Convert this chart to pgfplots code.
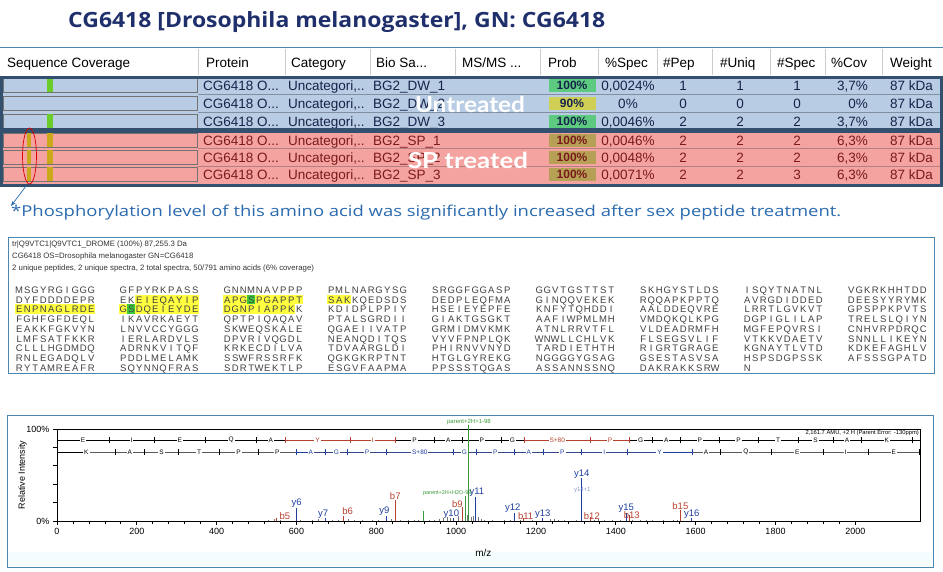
\documentclass[border=0pt]{standalone}
\usepackage{pgfplots}
\pgfplotsset{compat=1.18}
\usetikzlibrary{arrows.meta}
\usepackage{fontspec}
\setmainfont{Liberation Sans}
\newfontfamily\titlefont{Open Sans}
\newfontfamily\bigfont{Lato}

\definecolor{navy}{HTML}{1F2F6B}
\definecolor{rowblue}{HTML}{B8CCE4}
\definecolor{rowred}{HTML}{F4A3A0}
\definecolor{grpline}{HTML}{34506F}
\definecolor{probgreen}{HTML}{5DCB7F}
\definecolor{probyellow}{HTML}{CFCF55}
\definecolor{probolive}{HTML}{B5A055}
\definecolor{covgreen}{HTML}{6ACD2A}
\definecolor{covyel}{HTML}{C9A81A}
\definecolor{notecol}{HTML}{2B6AAE}
\definecolor{boxline}{HTML}{4A86B0}
\definecolor{hlyellow}{HTML}{FFFF40}
\definecolor{hlgreen}{HTML}{3CC83C}
\definecolor{bion}{HTML}{B8402E}
\definecolor{yion}{HTML}{1F3F9F}
\definecolor{pgreen}{HTML}{3A9A3A}
\definecolor{bluetxt}{HTML}{15234A}
\definecolor{redtxt}{HTML}{7B1B1B}

% one block of ten residues, fixed pitch
\newcommand\sqb[1]{\xsq#1\relax}
\def\xsq#1{\ifx#1\relax\else\makebox[8pt]{#1}\expandafter\xsq\fi}
\newcommand\seqrow[2]{%
  \foreach \blk [count=\b from 0] in {#2}{%
    \node[anchor=base west,inner sep=0pt,text=black!75,font=\fontsize{9.5}{9.5}\selectfont]
      at ({15+104*\b},#1+3.4) {\expandafter\sqb\expandafter{\blk}};}}

\tikzset{
  tl/.style={anchor=base west,inner sep=0pt,font=\fontsize{13.5}{14}\selectfont},
  tc/.style={anchor=base,inner sep=0pt,font=\fontsize{13.5}{14}\selectfont},
  tr/.style={anchor=base east,inner sep=0pt,font=\fontsize{13.5}{14}\selectfont},
  pl/.style={font=\fontsize{9.5}{9.5}\selectfont,inner sep=0.5pt},
}

% y, cov fill, text colour, prob colour, bio sample, prob, %spec
\newcommand\tabrow[7]{%
  \draw[black!55,fill=#2] (3,#1-7) rectangle (197,#1+7);
  \fill[#4] (549,#1-6.5) rectangle (596,#1+6.5);
  \node[tl,text=#3] at (203,#1+5) {CG6418 O...};
  \node[tl,text=#3] at (288,#1+5) {Uncategori,..};
  \node[tl,text=#3] at (373,#1+5) {#5};
  \node[tc,text=#3,font=\fontsize{12}{12}\selectfont\bfseries] at (572,#1+4.5) {#6};
  \node[tc,text=#3] at (628,#1+5) {#7};
  \node[tl,text=#3] at (890,#1+5) {87 kDa};
}
% y, text colour, pep, uniq, spec, cov
\newcommand\tabnums[6]{%
  \node[tc,text=#2] at (683,#1+5) {#3};
  \node[tc,text=#2] at (740,#1+5) {#4};
  \node[tc,text=#2] at (797,#1+5) {#5};
  \node[tr,text=#2] at (868,#1+5) {#6};
}

\begin{document}
\begin{tikzpicture}

\begin{scope}[x=1pt,y=-1pt]
\path[use as bounding box] (0,0) rectangle (943,571);

% title
\node[anchor=west,inner sep=0pt,text=navy] at (68,22)
  {\resizebox{537pt}{\height}{\titlefont\bfseries\fontsize{21}{21}\selectfont CG6418 [Drosophila melanogaster], GN: CG6418}};

% ---- table ----
\fill[white] (0,47) rectangle (943,76);
\fill[rowblue] (0,76) rectangle (943,130);
\fill[rowred] (0,130) rectangle (943,187);
\foreach \x in {198,285,370,455,540,598,657,712,770,825,882}
  \draw[black!20] (\x,49) -- (\x,75);
\node[tl] at (7,67) {Sequence Coverage};
\node[tl] at (206,67) {Protein};
\node[tl] at (291,67) {Category};
\node[tl] at (376,67) {Bio Sa...};
\node[tl] at (462,67) {MS/MS ...};
\node[tl] at (548,67) {Prob};
\node[tl] at (605,67) {\%Spec};
\node[tl] at (663,67) {\#Pep};
\node[tl] at (720,67) {\#Uniq};
\node[tl] at (777,67) {\#Spec};
\node[tl] at (831,67) {\%Cov};
\node[tl] at (890,67) {Weight};

\draw[black!30!rowblue] (198,94) -- (943,94) (198,112) -- (943,112);
\draw[red!40!black!50] (198,148.5) -- (943,148.5) (198,166) -- (943,166);

\tabrow{85}{rowblue}{bluetxt}{probgreen}{BG2\_DW\_1}{100\%}{0,0024\%}
\tabrow{103}{rowblue}{bluetxt}{probyellow}{BG2\_DW\_2}{90\%}{0\%}
\tabrow{121}{rowblue}{bluetxt}{probgreen}{BG2\_DW\_3}{100\%}{0,0046\%}
\tabrow{140}{rowred}{redtxt}{probolive}{BG2\_SP\_1}{100\%}{0,0046\%}
\tabrow{157}{rowred}{redtxt}{probolive}{BG2\_SP\_2}{100\%}{0,0048\%}
\tabrow{174}{rowred}{redtxt}{probolive}{BG2\_SP\_3}{100\%}{0,0071\%}
\tabnums{85}{bluetxt}{1}{1}{1}{3,7\%}
\tabnums{103}{bluetxt}{0}{0}{0}{0\%}
\tabnums{121}{bluetxt}{2}{2}{2}{3,7\%}
\tabnums{140}{redtxt}{2}{2}{2}{6,3\%}
\tabnums{157}{redtxt}{2}{2}{2}{6,3\%}
\tabnums{174}{redtxt}{2}{2}{3}{6,3\%}

% coverage marks
\foreach \y in {85,121} \fill[covgreen] (47,\y-7) rectangle (53,\y+7);
\foreach \y in {140,157,174} {
  \fill[covyel] (27,\y-7) rectangle (31,\y+7);
  \fill[covyel] (47,\y-7) rectangle (53,\y+7);
}

% group frames
\draw[grpline,line width=3pt] (1.5,77.5) rectangle (941.5,129);
\draw[grpline,line width=3pt] (1.5,131) rectangle (941.5,185.5);
\draw[boxline,line width=0.8pt] (0.4,47) -- (942.6,47);

% overlay words
\node[text=white,inner sep=0pt] at (470,104)
  {\resizebox{110pt}{\height}{\bigfont\bfseries\fontsize{22}{22}\selectfont Untreated}};
\node[text=white,inner sep=0pt] at (468,160)
  {\resizebox{120pt}{\height}{\bigfont\bfseries\fontsize{22}{22}\selectfont SP treated}};

% ellipse, arrow, note
\draw[red!85!black,line width=0.7pt] (29.5,156) ellipse [x radius=7pt,y radius=28pt];
\draw[-{Stealth[length=5pt]},notecol,line width=0.7pt] (26,186) -- (11,206);
\node[anchor=west,inner sep=0pt,text=notecol] at (11,213)
  {\resizebox{830pt}{\height}{\titlefont\fontsize{15}{15}\selectfont *Phosphorylation level of this amino acid was significantly increased after sex peptide treatment.}};

% ---- sequence box ----
\draw[boxline,line width=1pt] (8,237) rectangle (934,373);
\begin{scope}[every node/.style={anchor=base west,inner sep=0pt,text=black!80,font=\fontsize{7.8}{8}\selectfont}]
\node at (12,246) {tr|Q9VTC1|Q9VTC1\_DROME (100\%) 87,255.3 Da};
\node at (12,258) {CG6418 OS=Drosophila melanogaster GN=CG6418};
\node at (12,270) {2 unique peptides, 2 unique spectra, 2 total spectra, 50/791 amino acids (6\% coverage)};
\end{scope}

% highlights
\fill[hlyellow] (135,294.6) rectangle (199,304.4);
\fill[hlyellow] (223,294.6) rectangle (303,304.4);
\fill[hlgreen] (247,294.6) rectangle (255,304.4);
\fill[hlyellow] (327,294.6) rectangle (351,304.4);
\fill[hlyellow] (15,304.4) rectangle (95,314.2);
\fill[hlyellow] (119,304.4) rectangle (199,314.2);
\fill[hlgreen] (127,304.4) rectangle (135,314.2);
\fill[hlyellow] (223,304.4) rectangle (295,314.2);

\seqrow{290}{MSGYRGIGGG,GFPYRKPASS,GNNMNAVPPP,PMLNARGYSG,SRGGFGGASP,GGVTGSTTST,SKHGYSTLDS,ISQYTNATNL,VGKRKHHTDD}
\seqrow{299.75}{DYFDDDDEPR,EKEIEQAYIP,APGSPGAPPT,SAKKQEDSDS,DEDPLEQFMA,GINQQVEKEK,RQQAPKPPTQ,AVRGDIDDED,DEESYYRYMK}
\seqrow{309.5}{ENPNAGLRDE,GSDQEIEYDE,DGNPIAPPKK,KDIDPLPPIY,HSEIEYEPFE,KNFYTQHDDI,AALDDEQVRE,LRRTLGVKVT,GPSPPKPVTS}
\seqrow{319.25}{FGHFGFDEQL,IKAVRKAEYT,QPTPIQAQAV,PTALSGRDII,GIAKTGSGKT,AAFIWPMLMH,VMDQKQLKPG,DGPIGLILAP,TRELSLQIYN}
\seqrow{329}{EAKKFGKVYN,LNVVCCYGGG,SKWEQSKALE,QGAEIIVATP,GRMIDMVKMK,ATNLRRVTFL,VLDEADRMFH,MGFEPQVRSI,CNHVRPDRQC}
\seqrow{338.75}{LMFSATFKKR,IERLARDVLS,DPVRIVQGDL,NEANQDITQS,VYVFPNPLQK,WNWLLCHLVK,FLSEGSVLIF,VTKKVDAETV,SNNLLIKEYN}
\seqrow{348.5}{CLLLHGDMDQ,ADRNKVITQF,KRKECDILVA,TDVAARGLDI,PHIRNVVNYD,TARDIETHTH,RIGRTGRAGE,KGNAYTLVTD,KDKEFAGHLV}
\seqrow{358.25}{RNLEGADQLV,PDDLMELAMK,SSWFRSSRFK,QGKGKRPTNT,HTGLGYREKG,NGGGGYGSAG,GSESTASVSA,HSPSDGPSSK,AFSSSGPATD}
\seqrow{368}{RYTAMREAFR,SQYNNQFRAS,SDRTWEKTLP,ESGVFAAPMA,PPSSSTQGAS,ASSANNSSNQ,DAKRAKKSRW,N}

% ---- spectrum frame ----
\fill[cyan!4] (8,552) rectangle (932,566);
\draw[boxline,line width=1pt] (7,415) rectangle (933,567);
\end{scope}

\begin{axis}[
  at={(57pt,-521pt)}, anchor=south west,
  scale only axis, width=863pt, height=92pt,
  xmin=0, xmax=2162, ymin=0, ymax=100,
  clip=false,
  axis line style={line width=1pt},
  xtick={0,200,...,2000}, minor x tick num=4,
  ytick={0,20,...,100}, yticklabels={0\%,,,,,100\%},
  xtick pos=bottom, ytick pos=left, tick align=outside,
  major tick length=4pt, minor tick length=3pt,
  every tick/.style={black,line width=0.8pt},
  tick label style={font=\fontsize{9}{9}\selectfont},
  /pgf/number format/assume math mode=true,
  /pgf/number format/set thousands separator={},
  xlabel={m/z}, ylabel={Relative Intensity},
  xlabel style={at={(axis description cs:0.494,0)},anchor=center,yshift=-32pt,font=\fontsize{10}{10}\selectfont},
  ylabel style={at={(axis description cs:-0.040,0.5)},anchor=center,font=\fontsize{9}{9}\selectfont},
  ladtxt/.style={draw=none,mark=none,nodes near coords,point meta=explicit symbolic,
    every node near coord/.append style={anchor=center,fill=white,inner sep=1pt,font=\fontsize{6.5}{6.5}\selectfont}},
]
% fragment ladders
\addplot[black,line width=0.6pt,mark=|,mark size=3pt,mark options={line width=0.7pt}] coordinates {
(0,88) (130.05,88) (243.1,88) (372.2,88) (500.2,88) (571.3,88) (734.3,88) (847.4,88)
(944.5,88) (1015.5,88) (1112.6,88) (1169.6,88) (1336.6,88) (1433.7,88) (1490.7,88)
(1561.7,88) (1658.8,88) (1755.8,88) (1856.9,88) (1943.9,88) (2014.9,88) (2143,88) (2162,88)};
\addplot[bion,line width=0.6pt,mark=|,mark size=3pt,mark options={line width=0.7pt}] coordinates {(571.3,88) (734.3,88) (847.4,88)};
\addplot[bion,line width=0.6pt,mark=|,mark size=3pt,mark options={line width=0.7pt}] coordinates {(1169.6,88) (1336.6,88) (1433.7,88)};
\addplot[black,line width=0.6pt,mark=|,mark size=3pt,mark options={line width=0.7pt}] coordinates {
(0,75) (147.1,75) (218.1,75) (305.2,75) (406.2,75) (503.3,75) (600.3,75) (671.4,75) (728.4,75)
(825.4,75) (992.4,75) (1049.4,75) (1146.5,75) (1217.5,75) (1314.6,75) (1427.6,75) (1590.7,75)
(1661.7,75) (1789.8,75) (1918.8,75) (2031.9,75) (2160.9,75) (2162,75)};
\addplot[yion,line width=0.6pt,mark=|,mark size=3pt,mark options={line width=0.7pt}] coordinates {
(600.3,75) (671.4,75) (728.4,75) (825.4,75) (992.4,75) (1049.4,75) (1146.5,75) (1217.5,75)
(1314.6,75) (1427.6,75) (1590.7,75)};
\addplot[ladtxt,every node near coord/.append style={text=black}] coordinates {
(65,88)[E] (186.6,88)[I] (307.7,88)[E] (436.2,88)[Q] (535.8,88)[A] (896,88)[P] (980,88)[A]
(1064,88)[P] (1141.1,88)[G] (1462.2,88)[G] (1526.2,88)[A] (1610.3,88)[P] (1707.3,88)[P]
(1806.4,88)[T] (1900.4,88)[S] (1979.4,88)[A] (2079,88)[K]
(73.6,75)[K] (182.6,75)[A] (261.7,75)[S] (355.7,75)[T] (454.8,75)[P] (551.8,75)[P]
(1626.2,75)[A] (1725.8,75)[Q] (1854.3,75)[E] (1975.4,75)[I] (2096.4,75)[E]};
\addplot[ladtxt,every node near coord/.append style={text=bion}] coordinates {
(652.8,88)[Y] (790.9,88)[I] (1253.1,88)[S+80] (1385.2,88)[P]};
\addplot[ladtxt,every node near coord/.append style={text=yion}] coordinates {
(635.9,75)[A] (699.9,75)[G] (776.9,75)[P] (908.9,75)[S+80] (1020.9,75)[G] (1098,75)[P]
(1182,75)[A] (1266,75)[P] (1371.1,75)[I] (1509.2,75)[Y]};

% unassigned peaks
\addplot[ycomb,black!55,line width=0.5pt] coordinates {
(530,1) (545,2) (560,1.5) (610,1) (640,1.5) (655,2) (690,1) (705,1.5) (730,2.5) (745,1)
(765,1) (790,1.5) (805,1) (838,2.5) (860,1) (880,1.5) (895,1) (905,1.5) (932,1) (945,1.5)
(958,2) (968,3) (978,4) (985,3) (1005,5) (1028,6) (1038,4) (1042,5) (1055,4) (1062,2.5)
(1070,1.5) (1090,1) (1120,1) (1135,1.5) (1160,1.5) (1190,1) (1235,2) (1245,2.5) (1255,1.5)
(1270,1) (1300,1.5) (1345,1.5) (1355,2) (1370,1) (1390,1) (1410,1.5) (1440,1) (1460,1)
(1475,1) (1490,1) (1520,1) (1545,1.5) (1555,1)};
% b ions
\addplot[ycomb,bion,line width=1pt] coordinates {
(551,3) (717,5) (847.4,23) (1015.5,15) (1169.6,3) (1336.6,4) (1433.7,6) (1561.7,12)};
% y ions
\addplot[ycomb,yion,line width=1pt] coordinates {
(600.3,14) (671.4,3) (825.4,5) (992.4,3) (1049.4,26) (1146.5,9) (1217.5,3) (1314.6,47)
(1427.6,9) (1590.7,3)};
% precursor related
\addplot[ycomb,pgreen,line width=1pt] coordinates {(918,11) (1023,27) (1032,104)};

% peak labels
\node[pl,text=bion,anchor=south west] at (axis cs:556,0.5) {b5};
\node[pl,text=yion,anchor=south] at (axis cs:600.3,14) {y6};
\node[pl,text=yion,anchor=south] at (axis cs:667,2) {y7};
\node[pl,text=bion,anchor=south] at (axis cs:728,6) {b6};
\node[pl,text=yion,anchor=south] at (axis cs:820,5) {y9};
\node[pl,text=bion,anchor=south] at (axis cs:847.4,23) {b7};
\node[pl,text=yion,anchor=south] at (axis cs:988,2) {y10};
\node[pl,text=bion,anchor=south east] at (axis cs:1018,14) {b9};
\node[pl,text=yion,anchor=south] at (axis cs:1052,26) {y11};
\node[pl,text=yion,anchor=south] at (axis cs:1142,9) {y12};
\node[pl,text=bion,anchor=south] at (axis cs:1174,0.5) {b11};
\node[pl,text=yion,anchor=south] at (axis cs:1217,1.5) {y13};
\node[pl,text=yion,anchor=south] at (axis cs:1314.6,46) {y14};
\node[pl,text=bion,anchor=south] at (axis cs:1340,0.5) {b12};
\node[pl,text=yion,anchor=south] at (axis cs:1426,9) {y15};
\node[pl,text=bion,anchor=south] at (axis cs:1440,1.5) {b13};
\node[pl,text=bion,anchor=south] at (axis cs:1561.7,12) {b15};
\node[pl,text=yion,anchor=south] at (axis cs:1590,2) {y16};
\node[inner sep=0.5pt,text=yion!55,font=\fontsize{6}{6}\selectfont] at (axis cs:1316,34) {y14+1};
\node[inner sep=0.5pt,text=pgreen,font=\fontsize{6}{6}\selectfont,anchor=south] at (axis cs:1032,104) {parent+2H+1-98};
\node[inner sep=0.5pt,text=pgreen,font=\fontsize{5.5}{5.5}\selectfont,anchor=east] at (axis cs:1040,30) {parent+2H+H2O-98};
\node[inner sep=1pt,font=\fontsize{5.8}{6}\selectfont,anchor=north east] at (rel axis cs:1,1) {2,161.7 AMU, +2 H (Parent Error: -130ppm)};
\end{axis}

\end{tikzpicture}
\end{document}
